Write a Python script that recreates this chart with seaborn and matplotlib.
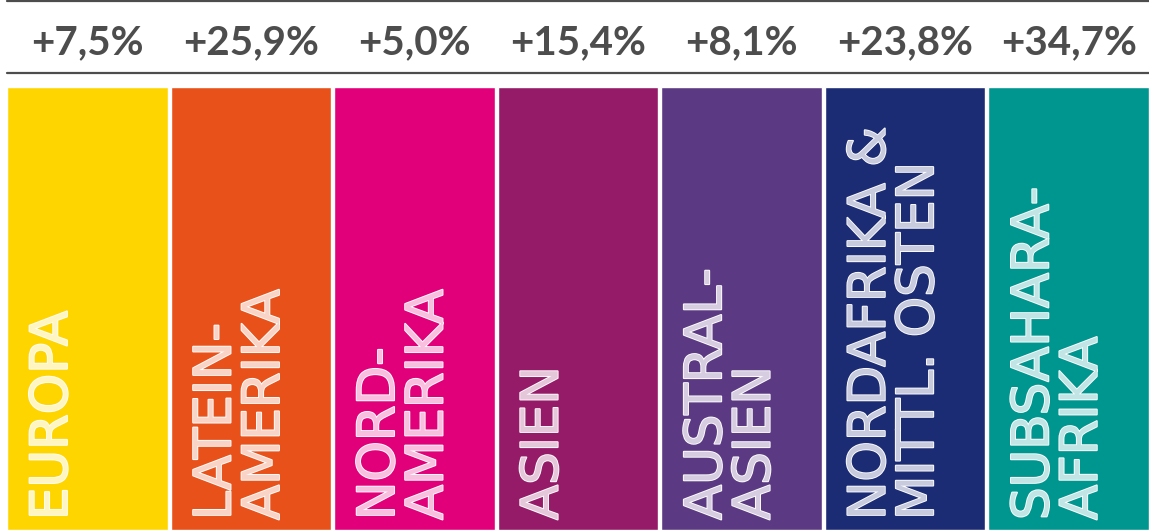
import matplotlib
matplotlib.use("Agg")
import matplotlib.pyplot as plt
import matplotlib.patheffects as pe
import pandas as pd
import seaborn as sns

# data
regions = ["EUROPA", "LATEIN-\nAMERIKA", "NORD-\nAMERIKA", "ASIEN",
           "AUSTRAL-\nASIEN", "NORDAFRIKA &\nMITTL. OSTEN", "SUBSAHARA-\nAFRIKA"]
growth = ["+7,5%", "+25,9%", "+5,0%", "+15,4%", "+8,1%", "+23,8%", "+34,7%"]
block = [1, 1, 1, 1, 1, 1, 1]  # all columns drawn at the same height
colors = ["#FFD500", "#E8511A", "#E2007A", "#951B68", "#5B3A83", "#1B2B74", "#009690"]

df = pd.DataFrame({"region": regions, "block": block, "growth": growth})

sns.set_theme(style="white")
plt.rcParams["font.family"] = ["DejaVu Sans"]

W, H = 1149, 530
fig = plt.figure(figsize=(W / 100, H / 100), dpi=100)
ax = fig.add_axes([7 / W, 0, (W - 7) / W, 1])

sns.barplot(data=df, x="region", y="block", hue="region", palette=colors,
            width=0.982, legend=False, saturation=1, ax=ax)

bar_px = 443  # height of a column in pixels
ax.set_ylim(0, H / bar_px)
ax.set_xlim(-0.491, len(regions) - 0.509)
ax.set_axis_off()

ink = "#4D4D4D"
# rules above and below the growth figures
ax.plot([-0.49, len(regions) - 0.51], [(H - 73) / bar_px] * 2, color=ink, lw=1.6, clip_on=False)
ax.plot([-0.49, len(regions) - 0.51], [(H - 0.8) / bar_px] * 2, color=ink, lw=1.6, clip_on=False)

slot_px = (W - 7) / (len(regions) - 0.018)
for i, row in df.iterrows():
    ax.text(i, (H - 43) / bar_px, row["growth"], ha="center", va="center",
            fontsize=29, fontweight="bold", color=ink, family="Lato")
    fill = sns.blend_palette([colors[i], "#FFFFFF"], 5)[3]
    ax.text(i - 0.491 + 21 / slot_px, 10 / bar_px, row["region"], rotation=90,
            ha="left", va="bottom", multialignment="left", linespacing=0.96,
            fontsize=37, color=fill, family="DejaVu Sans",
            path_effects=[pe.Stroke(linewidth=1.3, foreground="white"), pe.Normal()])

fig.savefig("out.png", dpi=100)
